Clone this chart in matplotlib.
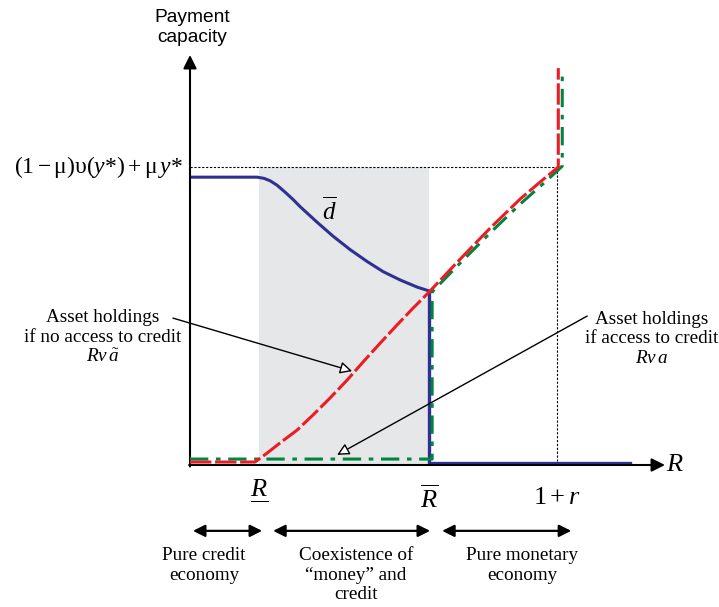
"""
Payment capacity vs R: credit / money regimes.
"""

import numpy as np
import matplotlib.pyplot as plt
from matplotlib.mathtext import MathTextParser

plt.rcParams['mathtext.fontset'] = 'custom'
plt.rcParams['mathtext.rm'] = 'Liberation Serif'
plt.rcParams['mathtext.it'] = 'Liberation Serif:italic'
plt.rcParams['font.family'] = ['Liberation Serif', 'DejaVu Serif']

# key values on the R axis
R_low = 0.40
R_bar = 1.39
one_plus_r = 2.134
top_level = 1.0  # (1-mu)v(y*) + mu y*

# d-bar curve (upper bound on debt)
d_x = [0.0, 0.390, 0.430, 0.465, 0.506, 0.552, 0.599, 0.640, 0.738, 0.831,
       0.930, 1.029, 1.122, 1.221, 1.320, 1.390]
d_y = [0.966, 0.966, 0.962, 0.954, 0.939, 0.916, 0.891, 0.867, 0.815, 0.768,
       0.723, 0.683, 0.649, 0.621, 0.597, 0.584]
# blue drop at R_bar then flat
blue_x = [1.39, 1.39, 2.558]
blue_y = [0.584, 0.006, 0.006]

# asset holdings without access to credit (red)
red_x = [0.0, 0.378, 0.448, 0.523, 0.622, 0.715, 0.814, 0.913, 1.006, 1.105, 1.203,
         1.297, 1.390, 1.570, 1.744, 1.919, 2.035, 2.140, 2.140]
red_y = [0.010, 0.010, 0.040, 0.074, 0.117, 0.168, 0.225, 0.285, 0.346, 0.409, 0.470,
         0.527, 0.581, 0.691, 0.795, 0.893, 0.950, 1.0, 1.332]

# asset holdings with access to credit (green)
green_x = [0.0, 1.407, 1.407, 1.570, 1.744, 1.919, 2.064, 2.163, 2.163]
green_y = [0.020, 0.020, 0.581, 0.678, 0.779, 0.876, 0.950, 1.003, 1.315]

# underlined R: fraction rule with an empty-ish denominator
r_under = r'$\dfrac{R}{\,}$'
try:
    MathTextParser('path').parse(r_under)
except Exception:
    r_under = 'R\u0332'

tick_pos = [R_low, R_bar, one_plus_r]
tick_lbl = [r_under, r'$\overline{R}$', r'$1+r$']
tick_y = [-0.121, -0.114, -0.11]

regions = [(0.017, 0.419), (0.483, 1.395), (1.465, 2.215)]
region_lbl = ['Pure credit\neconomy', 'Coexistence of\n\u201cmoney\u201d and\ncredit',
              'Pure monetary\neconomy']
region_cx = [0.081, 0.965, 1.930]

blue = '#2E3192'
red = '#ED1C24'
green = '#00853F'

fig = plt.figure(figsize=(7.19, 6.07), dpi=100)
ax = fig.add_axes([190 / 719, 142 / 607, 475 / 719, 410 / 607])
ax.set_xlim(0, 2.76)
ax.set_ylim(0, 1.376)
ax.axis('off')

# shaded coexistence region
ax.fill_between([R_low, R_bar], 0, top_level, color='#E6E7E8', lw=0, zorder=0)

# dotted guides
ax.plot([0, one_plus_r], [top_level, top_level], color='black', lw=0.8,
        ls=(0, (2, 1.5)), zorder=1)
ax.plot([one_plus_r, one_plus_r], [0, top_level], color='black', lw=0.8,
        ls=(0, (2, 1.5)), zorder=1)

# curves
ax.plot(d_x, d_y, color=blue, lw=2.2, zorder=3, solid_capstyle='butt')
ax.plot(blue_x, blue_y, color=blue, lw=2.4, zorder=3, solid_joinstyle='miter')
ax.plot(green_x, green_y, color=green, lw=2.2, zorder=4,
        dashes=(6, 2.5, 1.5, 2.5))
ax.plot(red_x, red_y, color=red, lw=2.2, zorder=5, dashes=(7, 1.2))

# axes arrows
arrow_kw = dict(arrowstyle='-|>', color='black', lw=1.5, mutation_scale=20,
                shrinkA=0, shrinkB=0)
ax.annotate('', xy=(2.76, 0), xytext=(-0.005, 0), arrowprops=arrow_kw,
            annotation_clip=False)
ax.annotate('', xy=(0, 1.376), xytext=(0, -0.005), arrowprops=arrow_kw,
            annotation_clip=False)

# labels
ax.text(2.82, 0, r'$R$', fontsize=19, ha='center', va='center')
fig.text(192 / 719, 1 - 27.5 / 607, 'Payment\ncapacity', family='Liberation Sans',
         fontsize=13.8, ha='center', va='center', linespacing=1.2)
ax.text(-0.04, top_level, r'$\mathrm{(1-\mu)\upsilon(}y\mathrm{*)+\mu}\,y\mathrm{*}$',
        fontsize=17, ha='right', va='center')
ax.text(0.81, 0.855, r'$\overline{d}$', fontsize=18, ha='center', va='center')

for x, y, lbl in zip(tick_pos, tick_y, tick_lbl):
    ax.text(x, y, lbl, fontsize=19, ha='center', va='center')

# annotations
ax.text(-0.506, 0.428, 'Asset holdings\nif no access to credit\n' + r'$Rv\,\tilde{a}$',
        fontsize=13.8, ha='center', va='center', linespacing=1.2)
ax.text(2.68, 0.424, 'Asset holdings\nif access to credit\n' + r'$Rv\,a$',
        fontsize=13.8, ha='center', va='center', linespacing=1.2)
open_kw = dict(arrowstyle='-|>', fc='white', ec='black', lw=1.0,
               mutation_scale=18, shrinkA=0, shrinkB=0)
ax.annotate('', xy=(0.942, 0.315), xytext=(-0.099, 0.493), arrowprops=open_kw,
            annotation_clip=False)
ax.annotate('', xy=(0.855, 0.034), xytext=(2.308, 0.50), arrowprops=open_kw,
            annotation_clip=False)

# regime arrows
dbl_kw = dict(arrowstyle='<|-|>', color='black', lw=1.6, mutation_scale=18,
              shrinkA=0, shrinkB=0)
for (x0, x1), lbl, cx in zip(regions, region_lbl, region_cx):
    ax.annotate('', xy=(x1, -0.221), xytext=(x0, -0.221), arrowprops=dbl_kw,
                annotation_clip=False)
    ax.text(cx, -0.275, lbl, fontsize=13.8, ha='center', va='top', linespacing=1.2)

fig.savefig('out.png', dpi=100)
